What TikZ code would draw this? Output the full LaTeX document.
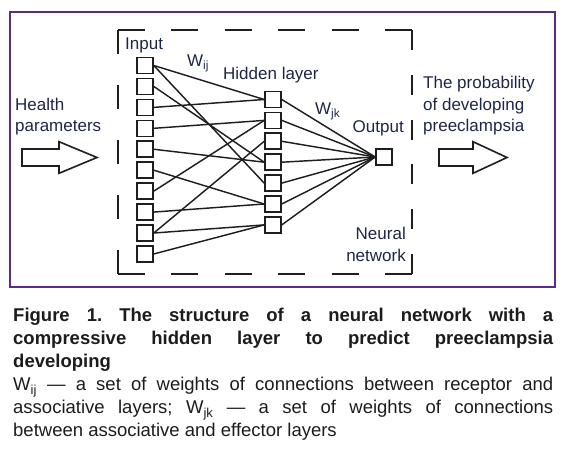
\documentclass[tikz,border=0pt]{standalone}
\usepackage{fontspec}
\setmainfont{Liberation Sans}
\usetikzlibrary{positioning}
\definecolor{framepurple}{RGB}{88,44,140}
\definecolor{labelblue}{RGB}{30,38,70}
\definecolor{ink}{RGB}{30,30,30}
\definecolor{captionink}{RGB}{28,28,28}
\tikzset{
  unit/.style={rectangle,draw=ink,fill=white,line width=1.6pt,minimum size=16pt,inner sep=0pt},
  link/.style={draw=ink,line width=1.45pt},
  lbl/.style={inner sep=0pt,text=labelblue,font=\fontsize{17}{21.5}\selectfont},
  boxline/.style={draw=ink,line width=1.8pt},
  bigarrow/.style={draw=ink,fill=white,line width=1.6pt,line join=miter},
}

\begin{document}
\frenchspacing
\begin{tikzpicture}[x=1pt,y=-1pt]
\useasboundingbox (0,0) rectangle (566,457);
% outer frame
\draw[draw=framepurple,line width=2.2pt] (10,12) rectangle (555,287);
% border of the network
\draw[boxline,dash pattern=on 27pt off 26.4pt] (118,30) -- (412,30);
\draw[boxline,dash pattern=on 27pt off 26.4pt] (118,274) -- (412,274);
\draw[boxline,dash pattern=on 24pt off 31pt] (118,30) -- (118,274);
\draw[boxline,dash pattern=on 20pt off 24.8pt] (412,30) -- (412,274);

% layers
\foreach \i in {1,...,10}
  \node[unit] (in\i) at (145,{65.5+(\i-1)*20.94}) {};
\foreach \j in {1,...,7}
  \node[unit] (hid\j) at (273,{99.5+(\j-1)*20.9}) {};
\node[unit] (out) at (384,157) {};

% weights
\foreach \a/\b in {1/1,1/5,2/4,3/1,4/2,5/4,6/6,7/2,8/6,9/3,9/7,10/7}
  \draw[link] (in\a.east) -- (hid\b.west);
\foreach \j in {1,...,7}
  \draw[link] (hid\j.east) -- (out.west);

% labels
\node[lbl,anchor=base west] (inlbl) at (125,50) {Input};
\node[lbl,anchor=base west] (wij) at (187,66.5) {W\textsubscript{ij}};
\node[lbl,anchor=base west] (hidlbl) at (223,80) {Hidden layer};
\node[lbl,anchor=base west] (wjk) at (315,115) {W\textsubscript{jk}};
\node[lbl,anchor=base west] (outlbl) at (352.5,133) {Output};
\node[lbl,anchor=base east,align=right] (netlbl) at (406,261.5) {Neural\\network};
\node[lbl,anchor=base west,align=left] (health) at (15,132) {Health\\parameters};
\node[lbl,anchor=base west,align=left] (prob) at (423,132) {The probability\\of developing\\preeclampsia};

% in and out arrows
\draw[bigarrow] (22,149) -- (59,149) -- (59,141.7) -- (97,157.5) -- (59,173.3) -- (59,166) -- (22,166) -- cycle;
\draw[bigarrow] (439,149) -- (473,149) -- (473,141.7) -- (507,157.5) -- (473,173.3) -- (473,166) -- (439,166) -- cycle;

% caption
\node[anchor=base west,text width=540pt,align=justify,inner sep=0pt,text=captionink,
  font=\fontsize{18.5}{23}\selectfont] (caption) at (13,322)
  {{\bfseries Figure 1. The structure of a neural network with a\linebreak
  compressive hidden layer to predict preeclampsia\linebreak developing}\par
  W\textsubscript{ij} — a set of weights of connections between receptor and
  associative layers; W\textsubscript{jk} — a set of weights of connections\linebreak
  between associative and effector layers};
\end{tikzpicture}
\end{document}
